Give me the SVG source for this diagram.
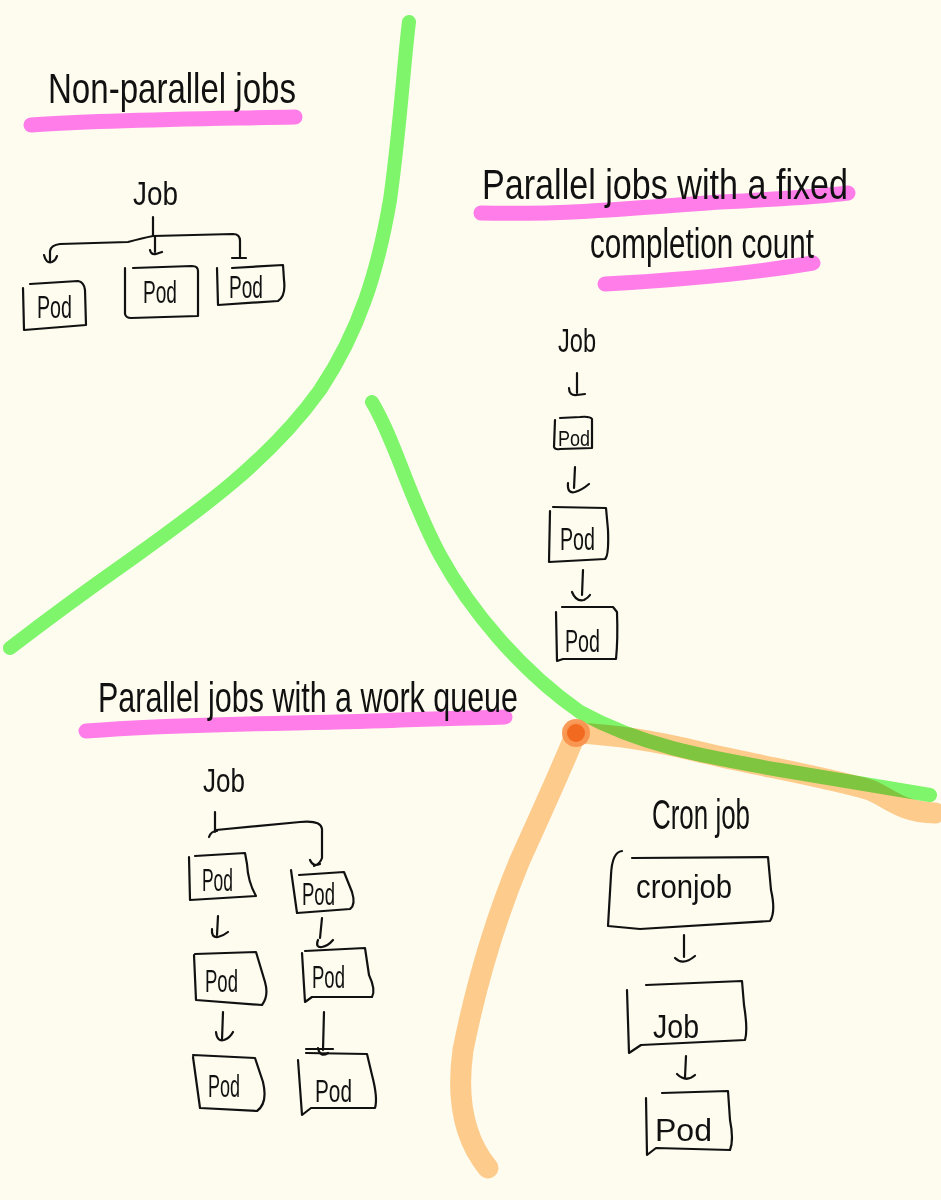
<svg xmlns="http://www.w3.org/2000/svg" width="941" height="1200" viewBox="0 0 941 1200">
<defs>
<style>
.hl{fill:none;stroke-linecap:round;stroke-linejoin:round}
.pink{stroke:#FF7DE9;stroke-width:15}
.green{stroke:#80F872;stroke-width:14;mix-blend-mode:multiply}
.orange{stroke:#FDCB8C;stroke-width:21}
.ink{fill:none;stroke:#111;stroke-width:2.2;stroke-linecap:round;stroke-linejoin:round}
text{font-family:"Liberation Sans",Arial,sans-serif;fill:#111}
.h{font-size:42px}
.lbl{font-size:34px}
.pod{font-size:32px}
</style>
</defs>
<rect width="941" height="1200" fill="#FEFCEF"/>

<g id="dividers">
<path class="hl orange" d="M576,733 C565,760 545,805 520,860 C495,920 475,990 463,1050 C456,1100 465,1140 488,1168"/>
<path class="hl orange" d="M576,733 C620,735 660,742 700,752 C760,766 830,778 870,790 C890,798 900,812 935,813"/>
<path class="hl green" d="M409,22 C404,60 400,130 390,200 C378,270 360,330 320,390 C270,460 200,510 130,560 C80,595 40,625 10,648"/>
<path class="hl green" d="M372,402 C395,440 410,500 440,555 C470,610 520,670 580,712 C640,745 700,756 780,770 C840,780 890,788 930,795"/>
<circle cx="576" cy="733" r="14" fill="#F7904A" opacity="0.9"/>
<circle cx="576" cy="733" r="9" fill="#F26A20"/>
</g>

<g id="underlines">
<path class="hl pink" d="M31,125 C100,120 200,119 295,117"/>
<path class="hl pink" d="M481,213 C560,215 640,208 720,202 C780,199 820,197 848,193"/>
<path class="hl pink" d="M605,284 C680,280 760,272 813,263"/>
<path class="hl pink" d="M86,731 C200,722 320,724 400,720 C450,718 480,718 505,717"/>
</g>

<g id="titles">
<text class="h" x="48" y="103" font-size="46" textLength="248" lengthAdjust="spacingAndGlyphs">Non-parallel jobs</text>
<text class="h" x="482" y="199" textLength="366" lengthAdjust="spacingAndGlyphs">Parallel jobs with a fixed</text>
<text class="h" x="590" y="258" font-size="36" textLength="224" lengthAdjust="spacingAndGlyphs">completion count</text>
<text class="h" x="98" y="712" textLength="420" lengthAdjust="spacingAndGlyphs">Parallel jobs with a work queue</text>
<text class="h" x="652" y="829" font-size="34" textLength="98" lengthAdjust="spacingAndGlyphs">Cron job</text>
</g>

<g id="connectors">
<path class="ink" d="M153,217 L153,236"/>
<path class="ink" d="M50,262 L50,251 Q51,245 60,244 L128,242 Q143,238 153,236 L233,234 Q240,234 240,241 L240,258"/>
<path class="ink" d="M155,236 L155,252"/>
<path class="ink" d="M44,255 Q46,264 52,262 Q56,260 57,256"/>
<path class="ink" d="M150,250 Q151,255 156,254 L162,252"/>
<path class="ink" d="M232,258 L246,258"/>
<path class="ink" d="M577,373 L577,393 M569,388 Q569,396 577,395 L585,394"/>
<path class="ink" d="M575,467 L574,488 M568,483 Q567,494 575,492 Q582,490 589,484"/>
<path class="ink" d="M583,570 L582,595 M572,592 Q576,602 584,600 Q588,598 590,595"/>
<path class="ink" d="M215,812 L215,832 M209,837 Q211,831 217,831"/>
<path class="ink" d="M216,830 L300,822 Q321,820 322,829 L322,858 Q320,864 314,866 M310,860 Q313,867 320,864"/>
<path class="ink" d="M218,916 L217,935 M212,929 Q211,938 218,937 Q223,936 228,932"/>
<path class="ink" d="M223,1012 L222,1040 M216,1032 Q217,1042 224,1040 Q230,1038 233,1032"/>
<path class="ink" d="M322,918 L320,938 M318,940 Q315,948 322,947 Q328,946 333,940"/>
<path class="ink" d="M324,1012 L323,1050 M318,1048 Q320,1058 328,1053 M306,1049 L333,1049"/>
<path class="ink" d="M684,935 L684,957 M675,958 Q683,966 695,956"/>
<path class="ink" d="M686,1056 L685,1077 M677,1074 Q686,1083 695,1075"/>
</g>

<g id="np-job"><text class="lbl" x="133" y="205" textLength="45" lengthAdjust="spacingAndGlyphs">Job</text></g>
<g id="np-pod1"><path class="ink" d="M23,288 L24,330 L86,325 L85,290 Q84,282 78,281 L30,284"/><text class="pod" x="37" y="318" textLength="35" lengthAdjust="spacingAndGlyphs">Pod</text></g>
<g id="np-pod2"><path class="ink" d="M125,268 L125,314 Q126,318 131,318 L198,316 L198,271 Q198,266 192,266 L133,268"/><text class="pod" x="143" y="303" textLength="34" lengthAdjust="spacingAndGlyphs">Pod</text></g>
<g id="np-pod3"><path class="ink" d="M217,268 L218,305 L278,301 Q286,296 284,280 L283,265 L232,268"/><text class="pod" x="229" y="298" textLength="34" lengthAdjust="spacingAndGlyphs">Pod</text></g>

<g id="fc-job"><text class="lbl" x="558" y="352" font-size="30" textLength="38" lengthAdjust="spacingAndGlyphs">Job</text></g>
<g id="fc-pod1"><path class="ink" d="M555,420 L554,447 Q555,450 560,449 L592,448 L592,419 Q590,416 580,417 L560,418"/><text x="558" y="446" font-size="22" textLength="32" lengthAdjust="spacingAndGlyphs">Pod</text></g>
<g id="fc-pod2"><path class="ink" d="M550,511 L549,562 L605,559 Q609,556 608,530 L606,508 L553,507"/><text class="pod" x="560" y="550" textLength="35" lengthAdjust="spacingAndGlyphs">Pod</text></g>
<g id="fc-pod3"><path class="ink" d="M556,612 L557,661 L563,659 L616,659 Q618,640 617,612 L613,607 L562,607"/><text class="pod" x="565" y="652" textLength="35" lengthAdjust="spacingAndGlyphs">Pod</text></g>

<g id="wq-job"><text class="lbl" x="203" y="792" font-size="32" textLength="42" lengthAdjust="spacingAndGlyphs">Job</text></g>
<g id="wq-pod-l1"><path class="ink" d="M189,857 L190,900 L256,896 Q248,882 247,864 L245,853 L195,856"/><text class="pod" x="202" y="891" textLength="31" lengthAdjust="spacingAndGlyphs">Pod</text></g>
<g id="wq-pod-l2"><path class="ink" d="M194,955 L196,1000 L262,1005 Q269,996 265,982 L256,952 L195,954"/><text class="pod" x="205" y="992" textLength="33" lengthAdjust="spacingAndGlyphs">Pod</text></g>
<g id="wq-pod-l3"><path class="ink" d="M193,1057 L200,1108 L257,1111 Q268,1103 263,1082 L255,1058 L193,1055"/><text class="pod" x="208" y="1097" textLength="32" lengthAdjust="spacingAndGlyphs">Pod</text></g>
<g id="wq-pod-r1"><path class="ink" d="M291,870 L297,913 L350,909 Q356,905 352,892 L344,872 L299,875"/><text class="pod" x="302" y="905" textLength="33" lengthAdjust="spacingAndGlyphs">Pod</text></g>
<g id="wq-pod-r2"><path class="ink" d="M302,953 L305,1002 L312,997 L372,997 Q376,990 369,975 L365,948 L305,951"/><text class="pod" x="312" y="988" textLength="33" lengthAdjust="spacingAndGlyphs">Pod</text></g>
<g id="wq-pod-r3"><path class="ink" d="M298,1060 L302,1115 L311,1108 L375,1108 Q378,1098 372,1075 L367,1054 L306,1053"/><text class="pod" x="315" y="1102" textLength="37" lengthAdjust="spacingAndGlyphs">Pod</text></g>

<g id="cj-cronjob"><path class="ink" d="M622,851 Q612,852 611,875 L608,926 L640,929 L770,921 Q776,912 771,890 L768,857 L632,858"/><text class="lbl" x="636" y="898" font-size="32" textLength="96" lengthAdjust="spacingAndGlyphs">cronjob</text></g>
<g id="cj-job"><path class="ink" d="M627,990 L629,1053 L641,1045 L745,1040 Q748,1030 744,1005 L742,981 L646,985"/><text class="lbl" x="653" y="1038" textLength="46" lengthAdjust="spacingAndGlyphs">Job</text></g>
<g id="cj-pod"><path class="ink" d="M646,1098 L647,1155 L656,1148 L730,1150 Q734,1140 730,1120 L728,1091 L662,1093"/><text class="pod" x="655" y="1141" font-size="40" textLength="57" lengthAdjust="spacingAndGlyphs">Pod</text></g>
</svg>
